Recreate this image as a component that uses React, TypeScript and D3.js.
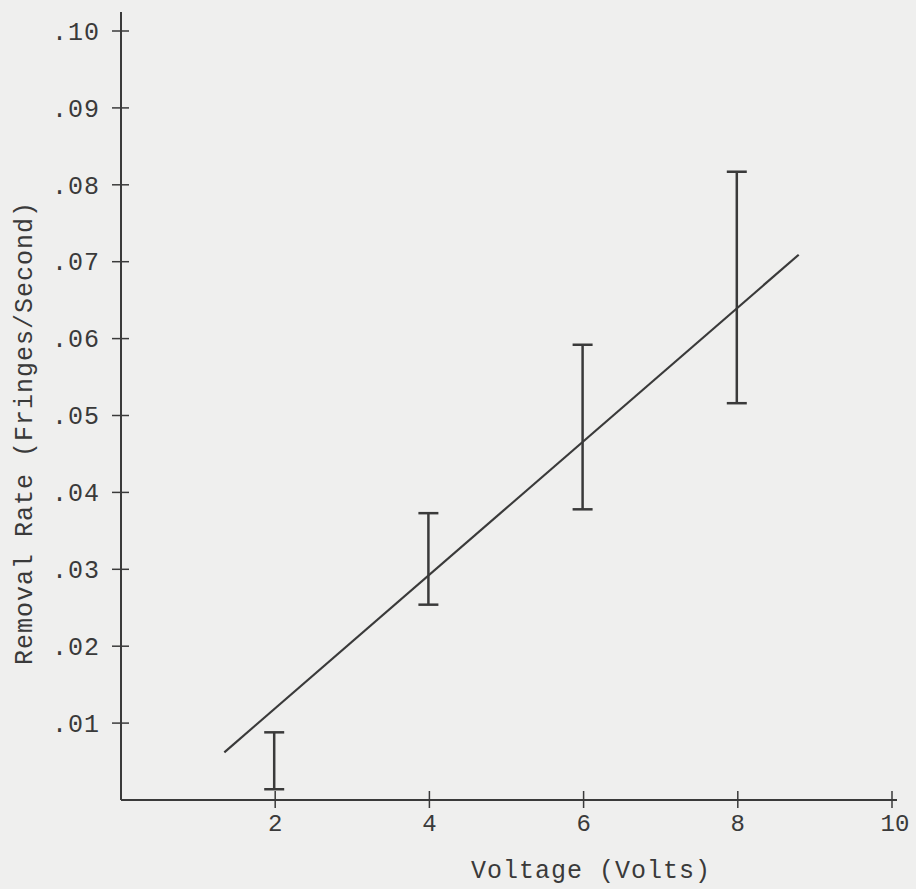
import { useEffect } from "react";
import * as d3 from "d3";

const voltages = [2, 4, 6, 8];
const rateLow = [0.0014, 0.0254, 0.0378, 0.0516];
const rateHigh = [0.0088, 0.0373, 0.0592, 0.0817];
const fitX = [1.34, 8.79];
const fitY = [0.0062, 0.0709];
const yTicks = [0.01, 0.02, 0.03, 0.04, 0.05, 0.06, 0.07, 0.08, 0.09, 0.1];
const xTicks = [2, 4, 6, 8, 10];

export default function App() {
  useEffect(() => {
    document.body.style.margin = "0";
  }, []);

  const width = 916;
  const height = 889;
  const x = d3.scaleLinear().domain([0, 10]).range([121, 892]);
  const y = d3.scaleLinear().domain([0, 0.1]).range([800, 31]);
  const ink = "#3a3a3a";
  const font = "'Liberation Mono', monospace";

  const fit = d3
    .line<number>()
    .x((d) => x(fitX[d]))
    .y((d) => y(fitY[d]))([0, 1]);

  return (
    <svg width={width} height={height} style={{ display: "block", background: "#efefee" }}>
      {/* axes */}
      <line x1={x(0)} x2={x(0)} y1={12} y2={y(0)} stroke={ink} strokeWidth={2} />
      <line x1={x(0)} x2={897} y1={y(0)} y2={y(0)} stroke={ink} strokeWidth={2} />

      {yTicks.map((t) => (
        <g key={t}>
          <line x1={x(0) - 9} x2={x(0) + 8} y1={y(t)} y2={y(t)} stroke={ink} strokeWidth={1.5} />
          <text
            x={100}
            y={y(t)}
            dy="0.35em"
            textAnchor="end"
            fontFamily={font}
            fontSize={25}
            letterSpacing={1}
            fill={ink}
          >
            {d3.format(".2f")(t).replace(/^0/, "")}
          </text>
        </g>
      ))}

      {xTicks.map((t) => (
        <g key={t}>
          <line x1={x(t)} x2={x(t)} y1={y(0) - 9} y2={y(0) + 8} stroke={ink} strokeWidth={1.5} />
          <text
            x={x(t) + (t === 10 ? 3 : 0)}
            y={y(0) + 31}
            textAnchor="middle"
            fontFamily={font}
            fontSize={24}
            fill={ink}
          >
            {t}
          </text>
        </g>
      ))}

      {/* error bars */}
      {voltages.map((v, i) => (
        <g key={v} stroke={ink} strokeWidth={2.5}>
          <line x1={x(v) - 1} x2={x(v) - 1} y1={y(rateHigh[i])} y2={y(rateLow[i])} />
          <line x1={x(v) - 11} x2={x(v) + 9} y1={y(rateHigh[i])} y2={y(rateHigh[i])} />
          <line x1={x(v) - 11} x2={x(v) + 9} y1={y(rateLow[i])} y2={y(rateLow[i])} />
        </g>
      ))}

      {/* fitted line */}
      <path d={fit ?? ""} stroke={ink} strokeWidth={2.2} fill="none" />

      {/* axis titles */}
      <text
        x={591}
        y={878}
        textAnchor="middle"
        fontFamily={font}
        fontSize={25}
        letterSpacing={1}
        fill={ink}
      >
        Voltage (Volts)
      </text>
      <text
        transform={`translate(32,${433}) rotate(-90)`}
        textAnchor="middle"
        fontFamily={font}
        fontSize={25}
        letterSpacing={1}
        fill={ink}
      >
        Removal Rate (Fringes/Second)
      </text>
    </svg>
  );
}
